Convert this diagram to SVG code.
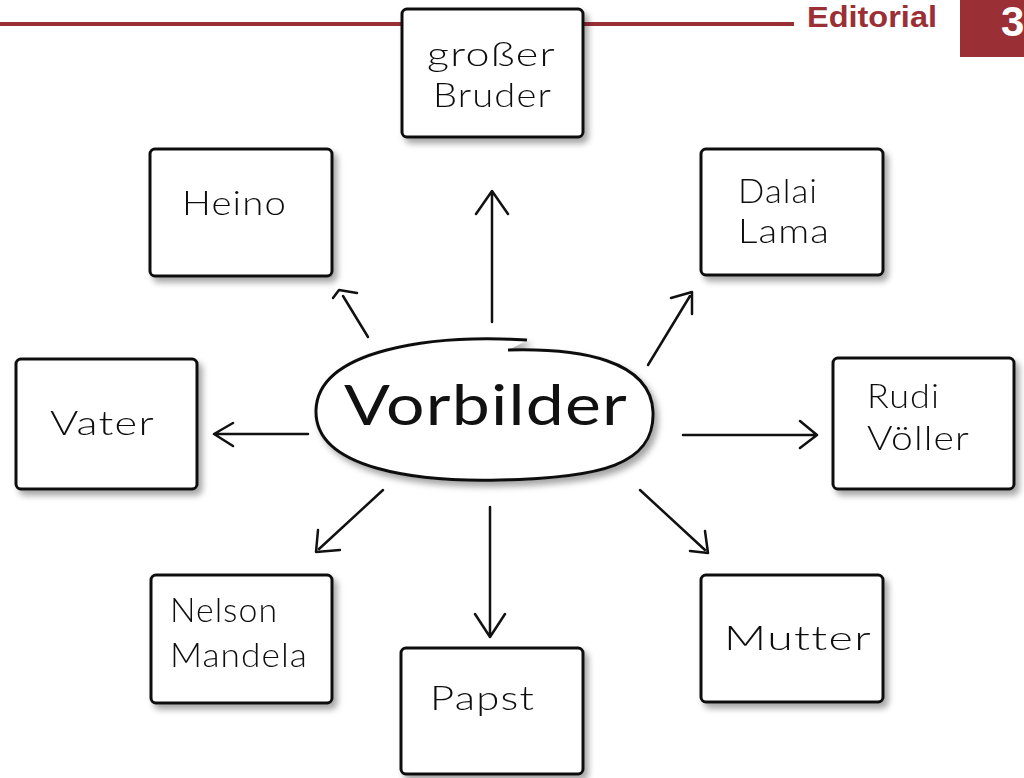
<svg xmlns="http://www.w3.org/2000/svg" width="1024" height="778" viewBox="0 0 1024 778">
<defs>
<filter id="sh" x="-10%" y="-10%" width="130%" height="130%">
<feDropShadow dx="4" dy="5" stdDeviation="3" flood-color="#000" flood-opacity="0.35"/>
</filter>
<style>
.box{fill:#fff;stroke:#111;stroke-width:3;stroke-linejoin:round}
.t{font-family:"Lato","DejaVu Sans",sans-serif;font-weight:300;font-size:34px;fill:#111;font-variant-ligatures:none;letter-spacing:1px}
.c{fill:none;stroke:#111;stroke-width:2.5;stroke-linecap:round;stroke-linejoin:round}
.red{fill:#9b2f36}
</style>
</defs>
<rect width="1024" height="778" fill="#fff"/>
<g id="header">
<rect class="red" x="0" y="22" width="402" height="4"/>
<rect class="red" x="584" y="22" width="210" height="4"/>
<text x="807" y="27" font-family="Liberation Sans, sans-serif" font-weight="bold" font-size="30" fill="#9b2f36" textLength="130" lengthAdjust="spacingAndGlyphs">Editorial</text>
<rect class="red" x="960" y="0" width="64" height="57"/>
<text x="1001" y="36" font-family="Liberation Sans, sans-serif" font-weight="bold" font-size="42" fill="#fff">3</text>
</g>
<g id="connectors">
<path class="c" d="M492 322 L492 192 M476 214 L492 191 L508 214"/>
<path class="c" d="M368 337 L343 296 M333 298 L339 290 L357 293"/>
<path class="c" d="M648 365 L690 296 M671 298 L692 292 L692 314"/>
<path class="c" d="M308 434 L215 434 M233 423 L214 434 L233 446"/>
<path class="c" d="M683 435 L816 435 M800 421 L817 435 L800 448"/>
<path class="c" d="M383 490 L319 549 M318 530 L316 552 L340 550"/>
<path class="c" d="M490 507 L490 636 M475 614 L490 637 L505 614"/>
<path class="c" d="M640 490 L705 550 M690 551 L708 553 L705 531"/>
</g>
<g id="center">
<path d="M527 340 C430 334 318 350 316 410 C314 470 420 482 500 480 C600 478 655 465 653 412 C651 360 580 348 508 350" fill="#fff" stroke="#111" stroke-width="3" filter="url(#sh)"/>
<text class="t" x="344" y="425" style="font-size:56px;font-weight:400" textLength="284" lengthAdjust="spacingAndGlyphs">Vorbilder</text>
</g>
<g id="n-bruder" filter="url(#sh)">
<rect class="box" x="402" y="9" width="181" height="128" rx="5"/>
<text class="t" x="427" y="66" textLength="129" lengthAdjust="spacingAndGlyphs">großer</text>
<text class="t" x="433" y="107" textLength="119" lengthAdjust="spacingAndGlyphs">Bruder</text>
</g>
<g id="n-heino" filter="url(#sh)">
<rect class="box" x="150" y="149" width="182" height="127" rx="5"/>
<text class="t" x="182" y="215" textLength="105" lengthAdjust="spacingAndGlyphs">Heino</text>
</g>
<g id="n-dalai" filter="url(#sh)">
<rect class="box" x="701" y="149" width="182" height="126" rx="5"/>
<text class="t" x="738" y="203" textLength="80" lengthAdjust="spacingAndGlyphs">Dalai</text>
<text class="t" x="738" y="243" textLength="92" lengthAdjust="spacingAndGlyphs">Lama</text>
</g>
<g id="n-vater" filter="url(#sh)">
<rect class="box" x="16" y="359" width="181" height="130" rx="5"/>
<text class="t" x="50" y="435" textLength="105" lengthAdjust="spacingAndGlyphs">Vater</text>
</g>
<g id="n-rudi" filter="url(#sh)">
<rect class="box" x="833" y="358" width="181" height="131" rx="5"/>
<text class="t" x="867" y="408" textLength="73" lengthAdjust="spacingAndGlyphs">Rudi</text>
<text class="t" x="867" y="450" textLength="103" lengthAdjust="spacingAndGlyphs">Völler</text>
</g>
<g id="n-nelson" filter="url(#sh)">
<rect class="box" x="151" y="575" width="181" height="128" rx="5"/>
<text class="t" x="170" y="622" textLength="108" lengthAdjust="spacingAndGlyphs">Nelson</text>
<text class="t" x="170" y="667" textLength="138" lengthAdjust="spacingAndGlyphs">Mandela</text>
</g>
<g id="n-papst" filter="url(#sh)">
<rect class="box" x="401" y="648" width="182" height="126" rx="5"/>
<text class="t" x="430" y="710" textLength="105" lengthAdjust="spacingAndGlyphs">Papst</text>
</g>
<g id="n-mutter" filter="url(#sh)">
<rect class="box" x="701" y="575" width="182" height="127" rx="5"/>
<text class="t" x="724" y="650" textLength="148" lengthAdjust="spacingAndGlyphs">Mutter</text>
</g>
</svg>
